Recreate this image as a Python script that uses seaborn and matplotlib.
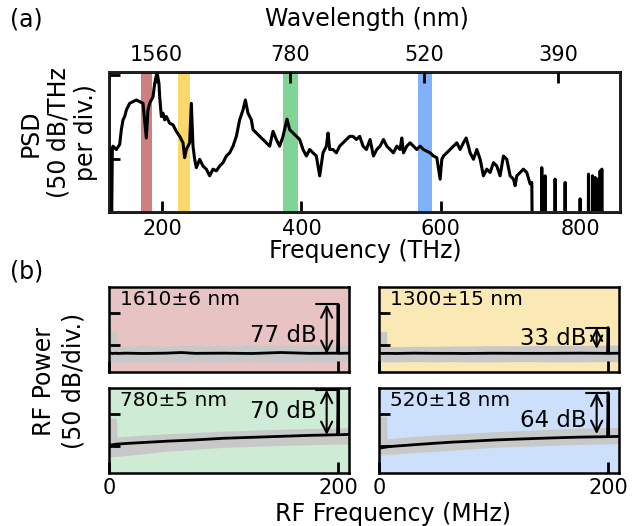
import numpy as np
import seaborn as sns
import matplotlib.pyplot as plt

# velocidade da luz em nm*THz
C_NM_THZ = 299792.458
FUNDO_DB = -60  # valor abaixo do eixo (sem sinal)

# ======== (a) espectro óptico ========
psd_thz = [124.9, 127.3, 128.8, 129.7, 134.5, 139.3, 141.7, 144.1, 146.5, 148.9, 153.6,
           158.4, 163.2, 168.0, 172.8, 177.5, 179.9, 182.3, 187.1, 189.5, 192.9, 195.7,
           196.7, 199.1, 201.5, 203.9, 206.2, 211.0, 215.8, 220.6, 225.4, 230.2, 232.5,
           234.9, 239.7, 242.1, 244.5, 246.9, 249.3, 254.1, 258.8, 263.6, 268.4, 273.2,
           278.0, 282.8, 287.5, 292.3, 297.1, 301.9, 306.7, 311.4, 316.2, 319.6, 323.4,
           328.2, 330.6, 335.4, 340.1, 344.9, 349.7, 354.5, 359.3, 364.0, 368.8, 373.6,
           379.3, 383.2, 388.0, 392.7, 397.5, 402.3, 407.1, 411.9, 416.6, 421.4, 426.2,
           431.0, 435.8, 438.2, 440.6, 445.3, 450.1, 454.9, 459.7, 464.5, 469.3, 474.0,
           478.8, 483.6, 488.4, 493.2, 498.5, 503.3, 508.1, 512.9, 517.7, 522.5, 527.2,
           532.0, 536.8, 541.6, 544.0, 546.4, 551.1, 555.9, 560.7, 565.5, 570.3, 575.1,
           579.8, 584.6, 589.4, 594.2, 599.0, 601.4, 603.8, 608.5, 613.3, 618.1, 622.9,
           627.7, 632.4, 636.3, 639.6, 642.0, 646.8, 651.6, 656.4, 661.1, 665.9, 670.7,
           675.5, 680.3, 685.0, 689.8, 694.6, 699.4, 704.2, 706.6, 709.0, 713.7, 718.5,
           723.3, 728.1, 730.5, 731.4]
psd_db = [5.5, -60, 6.5, 7.5, 5.5, 8.5, 17.4, 23.3, 25.3, 29.2, 33.2,
          34.2, 35.2, 34.2, 33.2, 12.4, 29.2, 33.2, 37.1, 45.0, 52.0, 45.0,
          37.1, 25.3, 27.3, 23.3, 25.3, 21.3, 20.3, 16.4, 13.4, 9.5, 0.6,
          5.5, 9.5, 33.2, 7.5, -0.4, -5.4, -0.4, -4.4, -6.3, -10.3, -6.3,
          -7.3, -4.4, -2.4, 1.6, 3.5, 7.5, 13.4, 23.3, 29.2, 35.2, 27.3,
          23.3, 17.4, 15.4, 13.4, 11.5, 9.5, 7.5, 16.4, 11.5, 7.5, 13.4,
          23.7, 17.4, 15.4, 13.4, 11.5, 5.5, 1.6, 5.5, 3.5, 1.6, -10.3,
          3.5, 7.5, 15.4, 5.5, 5.5, 3.5, 7.5, 9.5, 11.5, 13.4, 13.4,
          11.5, 13.4, 7.5, 5.5, 11.5, 1.6, 5.5, 7.5, 11.5, 7.5, 5.5,
          3.5, 7.5, 5.5, 12.4, 3.5, 7.5, 9.5, 7.5, 5.5, 7.5, 5.5,
          4.5, 3.5, 1.6, 0.6, -12.3, -0.4, 1.6, 3.5, 5.5, 7.5, 9.5,
          5.5, 9.5, 12.4, 7.5, 3.5, -0.4, 5.5, -0.4, -10.3, -6.3, -8.3,
          -2.4, -4.4, -10.3, 1.6, -0.4, -10.3, -12.3, -16.2, -10.3, -8.3, -6.3,
          -8.3, -15.2, -14.3, -60]
# picos isolados no azul/UV
pico_thz = [744.8, 749.6, 763.9, 778.3, 799.8, 811.8, 817.5, 821.3, 825.2, 828.5, 830.9]
pico_db = [-5.4, -10.3, -12.3, -14.3, -24.1, -9.3, -10.3, -11.3, -12.3, -7.3, -6.3]

# faixas filtradas
faixa_ini = [170.5, 222.8, 373.2, 567.4]
faixa_fim = [186.2, 240.6, 394.8, 587.5]
faixa_cores = ["#ce7f7f", "#fad86a", "#7fd496", "#7fb2fb"]
fundo_cores = ["#e8c3c3", "#fbe9b5", "#cdebd5", "#ccdffb"]

thz_ticks = [200, 400, 600, 800]
nm_ticks = [1560, 780, 520, 390]

# ======== (b) espectros RF ========
rf_rotulos = ["1610±6 nm", "1300±15 nm", "780±5 nm", "520±18 nm"]
rf_delta = ["77 dB", "33 dB", "70 dB", "64 dB"]
rf_delta_db = [77, 33, 70, 64]
rf_pico_db = [63, 27, 87, 82.5]
rf_texto_db = [15.5, 10.4, 53, 40]
rf_mhz = [0, 3, 6.5, 7, 15, 30, 50, 63, 75, 100, 125, 150, 175, 199.5, 200, 200.5, 210]
rf_linha = [
    [-12, -13, -12.5, -13, -12.5, -13, -12.5, -11.5, -12.8, -12.5, -13, -11.5, -12.8, -12.5, 63, -12.8, -12.5],
    [-12.5, -13, -12.8, -12.8, -13, -12.5, -12.8, -12.8, -13, -12.6, -12.8, -12.8, -12.5, -12.8, 27, -12.8, -12.6],
    [1, 2, 3, 3, 4, 5.5, 7.5, 8.5, 9.5, 12, 13.5, 15, 16.5, 17.5, 87, 17.5, 18],
    [-3.6, -2.5, -1.5, -1.2, 0, 2, 4.5, 6, 7, 9.3, 11, 12.5, 13.8, 14.5, 82.5, 14.5, 15],
]
rf_sup = [
    [20.6, 20.6, 20.6, -1.5, -1.5, -1, -1.5, -0.5, -1, -0.5, -0.5, 0, -0.5, 0, 0, 0, 0],
    [21, 21, 21, -2.5, -2.5, -2, -2, -1.5, -1.5, -1, -1, -0.5, -0.5, 0, 0, 0, 0],
    [43, 43, 43, 14, 15, 17, 19, 20, 21, 23, 24.5, 26, 27, 28, 28, 28, 28.3],
    [46, 46, 46, 11, 12.5, 15, 17, 18.5, 19.5, 22, 24, 26, 27.5, 28.5, 28.5, 28.5, 29],
]
rf_inf = [
    [-26, -26, -26, -26, -25.5, -26, -25.5, -26, -25.5, -26, -25.5, -26, -25.5, -26, -26, -26, -26],
    [-26, -25.5, -26, -26, -26, -25.5, -26, -25.5, -26, -26, -25.5, -26, -26, -25.5, -25.5, -25.5, -26],
    [-17, -16.5, -16, -16, -14.5, -12, -8, -6.5, -5, -2, -0.5, 1, 2, 3, 3, 3, 3],
    [-14, -13.5, -13, -13, -12, -10, -8, -6.5, -5, -2, -0.5, 1, 2.5, 3.5, 3.5, 3.5, 4],
]
rf_barra_ini = 181
rf_seta_mhz = 190

sns.set_theme(style="white")
plt.rcParams["font.family"] = ["DejaVu Sans"]
plt.rcParams["text.color"] = "black"
plt.rcParams["xtick.color"] = "black"
plt.rcParams["ytick.color"] = "black"
plt.rcParams["axes.axisbelow"] = False

TAM_TICK = 15
TAM_LABEL = 17

fig = plt.figure(figsize=(6.38, 5.26), dpi=100)
W, H = 638, 526

# ======== painel (a) ========
ax = fig.add_axes([109 / W, 1 - 212 / H, 511 / W, 140 / H])
for ini, fim, cor in zip(faixa_ini, faixa_fim, faixa_cores):
    ax.axvspan(ini, fim, color=cor, lw=0, zorder=1)

# monta a curva completa com os picos isolados
x_all = list(psd_thz)
y_all = list(psd_db)
for f, v in zip(pico_thz, pico_db):
    x_all += [f - 0.4, f, f + 0.4]
    y_all += [FUNDO_DB, v, FUNDO_DB]

sns.lineplot(x=x_all, y=y_all, ax=ax, color="black", linewidth=2.2,
             sort=False, estimator=None, zorder=3)
ax.set_xlim(124, 857)
ax.set_ylim(-32, 52)
ax.set_xticks(thz_ticks)
ax.set_yticks([0, 50])
ax.set_yticklabels([])
ax.set_xlabel("")
ax.set_ylabel("")
ax.tick_params(direction="in", length=8, width=2, labelsize=TAM_TICK, pad=5,
               bottom=True, left=True)
for s in ax.spines.values():
    s.set_linewidth(2)
    s.set_color("black")

ax_top = ax.twiny()
ax_top.set_xlim(ax.get_xlim())
ax_top.set_xticks([C_NM_THZ / w for w in nm_ticks])
ax_top.set_xticklabels([str(w) for w in nm_ticks])
ax_top.tick_params(direction="in", length=8, width=2, labelsize=TAM_TICK, pad=5,
                   top=True)
ax_top.grid(False)

fig.text(365 / W, 1 - 251 / H, "Frequency (THz)", ha="center", va="center", fontsize=TAM_LABEL)
fig.text(367 / W, 1 - 19 / H, "Wavelength (nm)", ha="center", va="center", fontsize=TAM_LABEL)
fig.text(98 / W, 1 - 133 / H, "PSD\n(50 dB/THz\nper div.)", rotation=90,
         ha="right", va="center", multialignment="center", fontsize=TAM_LABEL, linespacing=1.2)
fig.text(10 / W, 1 - 20 / H, "(a)", ha="left", va="center", fontsize=TAM_LABEL)

# ======== painéis (b) ========
posicoes = [(109, 287.3), (379, 287.3), (109, 388.3), (379, 388.3)]
for i, (x0, y0) in enumerate(posicoes):
    axb = fig.add_axes([x0 / W, 1 - (y0 + 84.5) / H, 240 / W, 84.5 / H])
    axb.set_facecolor(fundo_cores[i])
    axb.fill_between(rf_mhz, rf_inf[i], rf_sup[i], color="#c8c8c8", lw=0, zorder=1)
    sns.lineplot(x=rf_mhz, y=rf_linha[i], ax=axb, color="black", linewidth=2,
                 sort=False, estimator=None, zorder=3)
    pico = rf_pico_db[i]
    axb.plot([rf_barra_ini, 200], [pico, pico], color="black", lw=1.5, zorder=4)
    axb.annotate("", xy=(rf_seta_mhz, pico - rf_delta_db[i]), xytext=(rf_seta_mhz, pico),
                 arrowprops=dict(arrowstyle="<->", color="black", lw=1.5,
                                 mutation_scale=20, shrinkA=0, shrinkB=0), zorder=5)
    axb.text(rf_barra_ini, rf_texto_db[i], rf_delta[i], ha="right", va="center",
             fontsize=16.5, zorder=5)
    axb.text(10, 70, rf_rotulos[i], ha="left", va="center", fontsize=14.5, zorder=5)

    axb.set_xlim(0, 209.5)
    axb.set_ylim(-41.3, 89.2)
    axb.set_xticks([0, 200])
    axb.set_yticks([0, 50])
    axb.set_yticklabels([])
    axb.set_xlabel("")
    axb.set_ylabel("")
    axb.tick_params(direction="in", length=8, width=2, labelsize=TAM_TICK, pad=4,
                    bottom=True, left=True)
    if i < 2:
        axb.set_xticklabels([])
    for s in axb.spines.values():
        s.set_linewidth(1.8)
        s.set_color("black")

fig.text(393 / W, 1 - 514 / H, "RF Frequency (MHz)", ha="center", va="center", fontsize=TAM_LABEL)
fig.text(85 / W, 1 - 381 / H, "RF Power\n(50 dB/div.)", rotation=90,
         ha="right", va="center", multialignment="center", fontsize=TAM_LABEL, linespacing=1.25)
fig.text(10 / W, 1 - 271 / H, "(b)", ha="left", va="center", fontsize=TAM_LABEL)

fig.savefig("out.png", dpi=100)
plt.close(fig)
print("ok")
